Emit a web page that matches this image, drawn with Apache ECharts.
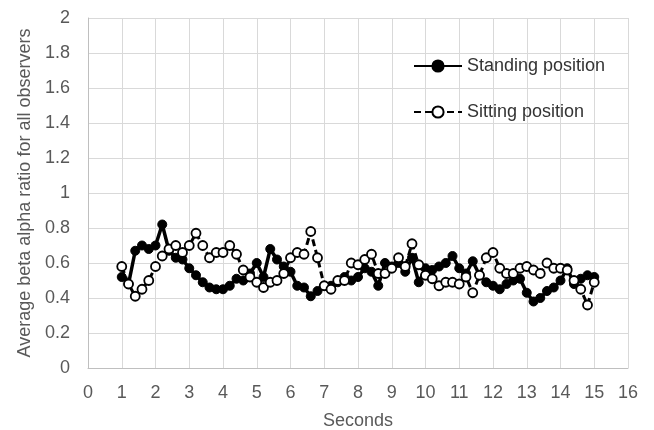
<!DOCTYPE html>
<html><head><meta charset="utf-8">
<script src="https://cdn.jsdelivr.net/npm/echarts@6/dist/echarts.min.js"></script>
<style>html,body{margin:0;padding:0;background:#fff}#c{width:654px;height:430px}</style>
</head><body><div id="c"></div>
<script>
var seconds = [1.0,1.2,1.4,1.6,1.8,2.0,2.2,2.4,2.6,2.8,3.0,3.2,3.4,3.6,3.8,4.0,4.2,4.4,4.6,4.8,
  5.0,5.2,5.4,5.6,5.8,6.0,6.2,6.4,6.6,6.8,7.0,7.2,7.4,7.6,7.8,8.0,8.2,8.4,8.6,8.8,
  9.0,9.2,9.4,9.6,9.8,10.0,10.2,10.4,10.6,10.8,11.0,11.2,11.4,11.6,11.8,12.0,12.2,12.4,12.6,12.8,
  13.0,13.2,13.4,13.6,13.8,14.0,14.2,14.4,14.6,14.8,15.0];
var standing = [0.52,0.48,0.67,0.70,0.68,0.70,0.82,0.67,0.63,0.62,0.57,0.53,0.49,0.46,0.45,0.45,0.47,0.51,0.50,0.54,
  0.60,0.52,0.68,0.62,0.58,0.55,0.47,0.46,0.41,0.44,0.47,0.47,0.49,0.52,0.50,0.52,0.57,0.55,0.47,0.60,
  0.58,0.60,0.55,0.63,0.49,0.57,0.56,0.58,0.60,0.64,0.57,0.54,0.61,0.53,0.49,0.47,0.45,0.48,0.50,0.51,
  0.43,0.38,0.40,0.44,0.46,0.50,0.57,0.48,0.51,0.53,0.52];
var sitting = [0.58,0.48,0.41,0.45,0.50,0.58,0.64,0.68,0.70,0.66,0.70,0.77,0.70,0.63,0.66,0.66,0.70,0.65,0.56,0.52,
  0.49,0.46,0.49,0.50,0.54,0.63,0.66,0.65,0.78,0.63,0.47,0.45,0.50,0.50,0.60,0.59,0.62,0.65,0.54,0.54,
  0.57,0.63,0.58,0.71,0.59,0.53,0.51,0.47,0.49,0.49,0.48,0.52,0.43,0.53,0.63,0.66,0.57,0.54,0.54,0.57,
  0.58,0.56,0.54,0.60,0.57,0.57,0.56,0.50,0.45,0.36,0.49];
var seriesNames = ['Standing position','Sitting position'];
var xTitle = 'Seconds';
var yTitle = 'Average beta alpha ratio for all observers';

function pairs(vals){ return seconds.map(function(t,i){ return [t, vals[i]]; }); }

var FONT = 'Liberation Sans, Arial, sans-serif';
var chart = echarts.init(document.getElementById('c'), null, {renderer:'canvas'});
chart.setOption({
  animation:false,
  backgroundColor:'#fff',
  grid:{left:88, right:26, top:18, bottom:62, containLabel:false, outerBoundsMode:'none'},
  legend:{
    orient:'vertical', left:408, top:52, itemWidth:48, itemHeight:14, itemGap:28,
    textStyle:{color:'#333', fontSize:18, fontFamily:FONT},
    data:seriesNames
  },
  xAxis:{
    type:'value', min:0, max:16, interval:1,
    name:xTitle, nameLocation:'middle', nameGap:44,
    nameTextStyle:{color:'#595959', fontSize:18, fontFamily:FONT},
    axisLine:{show:true, lineStyle:{color:'#bfbfbf', width:1}},
    axisTick:{show:false},
    axisLabel:{margin:16, color:'#595959', fontSize:18, fontFamily:FONT},
    splitLine:{show:true, lineStyle:{color:'#d9d9d9', width:1}}
  },
  yAxis:{
    type:'value', min:0, max:2, interval:0.2,
    name:yTitle, nameLocation:'middle', nameGap:53, nameRotate:90,
    nameTextStyle:{color:'#595959', fontSize:18, fontFamily:FONT},
    axisLine:{show:true, lineStyle:{color:'#bfbfbf', width:1}},
    axisTick:{show:false},
    axisLabel:{margin:18, color:'#595959', fontSize:18, fontFamily:FONT},
    splitLine:{show:true, lineStyle:{color:'#d9d9d9', width:1}}
  },
  series:[
    {
      name:seriesNames[0], type:'line', data:pairs(standing),
      symbol:'circle', symbolSize:9, showAllSymbol:true,
      lineStyle:{color:'#000', width:3.5},
      itemStyle:{color:'#000', borderColor:'#000', borderWidth:1},
      z:2
    },
    {
      name:seriesNames[1], type:'line', data:pairs(sitting),
      symbol:'circle', symbolSize:9, showAllSymbol:true,
      lineStyle:{color:'#000', width:3, type:[7,4]},
      itemStyle:{color:'#fff', borderColor:'#000', borderWidth:1.8},
      z:3
    }
  ]
});
</script></body></html>
